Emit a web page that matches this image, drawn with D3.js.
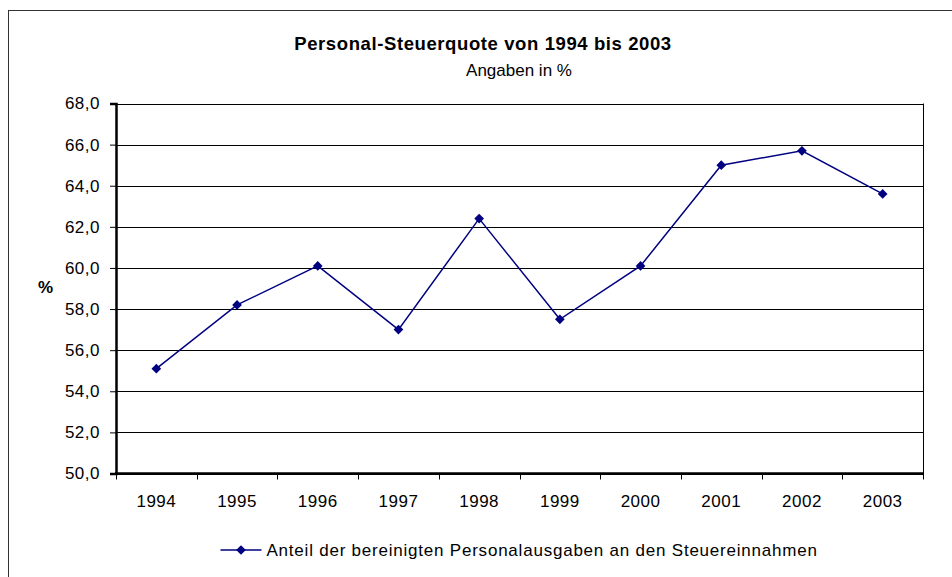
<!DOCTYPE html>
<html>
<head>
<meta charset="utf-8">
<script src="https://cdn.jsdelivr.net/npm/d3@7"></script>
<style>
  body { margin: 0; background: #fff; }
  svg { font-family: "Liberation Sans", Arial, sans-serif; }
</style>
</head>
<body>
<svg id="chart" width="952" height="577"></svg>
<script>
const years = ["1994", "1995", "1996", "1997", "1998", "1999", "2000", "2001", "2002", "2003"];
const quote = [55.1, 58.2, 60.1, 57.0, 62.4, 57.5, 60.1, 65.0, 65.7, 63.6];
const yTicks = [50, 52, 54, 56, 58, 60, 62, 64, 66, 68];
const seriesName = "Anteil der bereinigten Personalausgaben an den Steuereinnahmen";

const svg = d3.select("#chart");
const plotLeft = 116, plotRight = 923, plotTop = 103.5, plotBottom = 473.5;
const navy = "#000080";

// outer chart frame (runs off the right and bottom edge)
svg.append("rect")
  .attr("x", 8.5).attr("y", 10.5)
  .attr("width", 960).attr("height", 600)
  .attr("fill", "none").attr("stroke", "#333").attr("stroke-width", 1);

const x = d3.scaleBand().domain(years).range([plotLeft, plotRight]);
const y = d3.scaleLinear().domain([50, 68]).range([plotBottom, plotTop]);

// titles
svg.append("text")
  .attr("x", 483).attr("y", 50)
  .attr("text-anchor", "middle")
  .attr("font-size", 18.5).attr("font-weight", "bold")
  .attr("letter-spacing", 0.6)
  .text("Personal-Steuerquote von 1994 bis 2003");
svg.append("text")
  .attr("x", 519).attr("y", 76)
  .attr("text-anchor", "middle")
  .attr("font-size", 17)
  .text("Angaben in %");

// gridlines
svg.append("g")
  .selectAll("line")
  .data(yTicks)
  .join("line")
    .attr("x1", plotLeft).attr("x2", plotRight)
    .attr("y1", d => Math.round(y(d)) + 0.5)
    .attr("y2", d => Math.round(y(d)) + 0.5)
    .attr("stroke", "#000").attr("stroke-width", 1);

// right border of plot area
svg.append("line")
  .attr("x1", plotRight + 0.5).attr("x2", plotRight + 0.5)
  .attr("y1", plotTop).attr("y2", plotBottom)
  .attr("stroke", "#000");

// y axis
const yAxis = svg.append("g")
  .attr("transform", `translate(${plotLeft},0)`)
  .call(d3.axisLeft(y).tickValues(yTicks).tickSize(6).tickPadding(10)
    .tickFormat(d => d3.format(".1f")(d).replace(".", ",")));
yAxis.select(".domain").attr("stroke-width", 2.5);
yAxis.selectAll(".tick line").attr("stroke", "#000");
yAxis.selectAll("text").attr("font-size", 17).attr("fill", "#000")
  .attr("letter-spacing", 0.5)
  .attr("font-family", "Liberation Sans, Arial, sans-serif");

// x axis: ticks at category boundaries
const xg = svg.append("g").attr("transform", `translate(0,${plotBottom})`);
xg.append("line")
  .attr("x1", plotLeft - 1).attr("x2", plotRight + 1)
  .attr("stroke", "#000").attr("stroke-width", 2.5);
xg.selectAll(".xtick")
  .data(years.concat(["end"]))
  .join("line")
    .attr("class", "xtick")
    .attr("x1", (d, i) => Math.round(plotLeft + i * x.bandwidth()) + 0.5)
    .attr("x2", (d, i) => Math.round(plotLeft + i * x.bandwidth()) + 0.5)
    .attr("y1", 0).attr("y2", 6)
    .attr("stroke", "#000");
xg.selectAll(".xlabel")
  .data(years)
  .join("text")
    .attr("class", "xlabel")
    .attr("x", d => x(d) + x.bandwidth() / 2)
    .attr("y", 33.5)
    .attr("text-anchor", "middle")
    .attr("font-size", 17)
    .attr("letter-spacing", 0.5)
    .text(d => d);

// y axis title
svg.append("text")
  .attr("x", 45.5).attr("y", 293)
  .attr("text-anchor", "middle")
  .attr("font-size", 17).attr("font-weight", "bold")
  .text("%");

// series
const pts = years.map((yr, i) => ({ yr, v: quote[i] }));
const diamond = d3.symbol().type(d3.symbolDiamond2).size(60);

svg.append("path")
  .datum(pts)
  .attr("fill", "none")
  .attr("stroke", navy)
  .attr("stroke-width", 1.5)
  .attr("d", d3.line()
    .x(d => x(d.yr) + x.bandwidth() / 2)
    .y(d => y(d.v)));

svg.append("g")
  .selectAll("path")
  .data(pts)
  .join("path")
    .attr("transform", d => `translate(${x(d.yr) + x.bandwidth() / 2},${y(d.v)})`)
    .attr("d", diamond)
    .attr("fill", navy);

// legend
const lg = svg.append("g").attr("transform", "translate(220.5,550)");
lg.append("line").attr("x1", 0).attr("x2", 41).attr("stroke", navy).attr("stroke-width", 1.5);
lg.append("path").attr("transform", "translate(20.5,0)").attr("d", diamond).attr("fill", navy);
lg.append("text")
  .attr("x", 46).attr("y", 5.5)
  .attr("font-size", 17)
  .attr("letter-spacing", 0.78)
  .text(seriesName);
</script>
</body>
</html>
